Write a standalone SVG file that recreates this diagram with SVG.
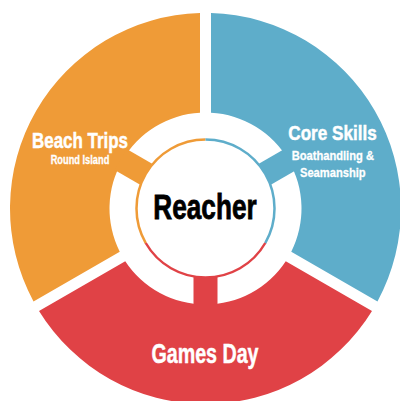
<svg xmlns="http://www.w3.org/2000/svg" width="400" height="401" viewBox="0 0 400 401">
  <style>
    .orange { fill: #EF9B37; }
    .blue { fill: #5EADCA; }
    .red { fill: #E04246; }
    .lbl { font-family: "Liberation Sans Narrow", "Liberation Sans", Arial, sans-serif; font-weight: bold; fill: #FFFFFF; stroke: #FFFFFF; stroke-width: 0.5; text-anchor: middle; }
    .arc { fill: none; stroke-width: 2.5; }
  </style>
  <rect width="400" height="401" fill="#FFFFFF"/>
  <g id="beach-trips">
    <path class="orange" d="M 33.51 301.45 A 195.5 195.5 0 0 1 200 13.08 L 200 112.66 A 96 96 0 0 0 119.75 251.66 Z"/>
    <rect class="orange" x="-12" y="68" width="24" height="30" transform="translate(205.5 208.5) rotate(120)"/>
    <text class="lbl" x="80" y="148.3" font-size="21.5" textLength="96" lengthAdjust="spacingAndGlyphs">Beach Trips</text>
    <text class="lbl" x="80" y="164.3" font-size="12" textLength="58.6" lengthAdjust="spacingAndGlyphs" style="stroke-width:0.3">Round Island</text>
  </g>
  <g id="core-skills">
    <path class="blue" d="M 211 13.08 A 195.5 195.5 0 0 1 377.49 301.45 L 291.25 251.66 A 96 96 0 0 0 211 112.66 Z"/>
    <rect class="blue" x="-12" y="68" width="24" height="30" transform="translate(205.5 208.5) rotate(-120)"/>
    <text class="lbl" x="332.5" y="139.5" font-size="21" textLength="88.3" lengthAdjust="spacingAndGlyphs">Core Skills</text>
    <text class="lbl" x="332.8" y="160" font-size="13.3" textLength="82.3" lengthAdjust="spacingAndGlyphs" style="stroke-width:0.3">Boathandling &amp;</text>
    <text class="lbl" x="332.8" y="176.7" font-size="13.3" textLength="65.7" lengthAdjust="spacingAndGlyphs" style="stroke-width:0.3">Seamanship</text>
  </g>
  <g id="games-day">
    <path class="red" d="M 371.99 310.97 A 195.5 195.5 0 0 1 39.01 310.97 L 125.25 261.18 A 96 96 0 0 0 285.75 261.18 Z"/>
    <rect class="red" x="-12" y="68" width="24" height="30" transform="translate(205.5 208.5)"/>
    <text class="lbl" x="205" y="363" font-size="28.5" textLength="107" lengthAdjust="spacingAndGlyphs">Games Day</text>
  </g>
  <g id="reacher">
    <circle cx="205.5" cy="208.5" r="69" fill="#FFFFFF"/>
    <path class="arc" stroke="#EF9B37" d="M 145.74 243 A 69 69 0 0 1 205.5 139.5"/>
    <path class="arc" stroke="#5EADCA" d="M 205.5 139.5 A 69 69 0 0 1 265.26 243"/>
    <path class="arc" stroke="#E04246" d="M 265.26 243 A 69 69 0 0 1 145.74 243"/>
    <text x="205" y="219.3" font-family="'Liberation Sans Narrow', 'Liberation Sans', Arial, sans-serif" font-weight="bold" font-size="35.3" fill="#000000" stroke="#000000" stroke-width="0.8" text-anchor="middle" textLength="103.3" lengthAdjust="spacingAndGlyphs">Reacher</text>
  </g>
</svg>
